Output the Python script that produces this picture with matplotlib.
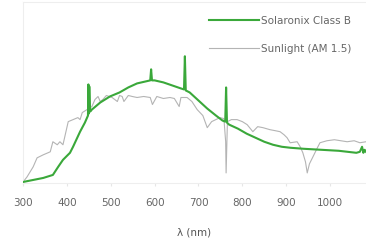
import numpy as np
import matplotlib
matplotlib.use("Agg")
import matplotlib.pyplot as plt

# Solaronix Class B lamp spectrum (arbitrary units)
lamp_nm = [300, 323, 346, 368, 380, 391, 407, 414, 430, 441, 446, 448, 449, 450,
           451, 453, 457, 476, 498, 520, 540, 560, 580, 590, 592, 594, 600,
           620, 640, 660, 667, 669, 671, 680, 700, 720, 740, 755, 761, 763,
           765, 770, 790, 810, 830, 850, 870, 890, 910, 940, 980, 1020, 1060,
           1068, 1073, 1076, 1079, 1082]
lamp_val = [0, 2, 4, 7, 15, 22, 29, 35, 50, 59, 64, 66, 97, 68,
            95, 70, 72, 79, 85, 89, 94, 98, 100, 101, 112, 101, 101,
            99, 96, 93, 92, 125, 91, 89, 81, 73, 66, 61, 60, 94,
            59, 57, 53, 48, 44, 40, 37, 35, 34, 33, 32, 31, 29,
            30, 35, 29, 32, 30]

# Sunlight AM 1.5 spectrum (arbitrary units)
sun_nm = [300, 309, 323, 332, 346, 362, 368, 378, 384, 391, 403, 414, 425, 430,
          435, 446, 457, 464, 471, 476, 482, 490, 503, 515, 520, 526, 530,
          540, 549, 560, 575, 590, 595, 605, 620, 635, 645, 656, 660, 674,
          685, 697, 710, 720, 730, 749, 758, 762, 763, 766, 775, 788, 800,
          811, 824, 835, 847, 863, 875, 886, 895, 902, 909, 925, 932, 938,
          944, 948, 953, 961, 970, 977, 993, 1010, 1039, 1055, 1068, 1082]
sun_val = [0, 5, 15, 24, 27, 30, 40, 37, 40, 37, 60, 62, 64, 62,
           69, 72, 75, 82, 85, 80, 82, 86, 84, 80, 86, 85, 80,
           86, 85, 84, 85, 84, 77, 85, 83, 84, 83, 75, 84, 84,
           80, 72, 66, 54, 60, 64, 63, 40, 9, 60, 62, 62, 60,
           57, 50, 55, 54, 52, 51, 50, 47, 44, 39, 40, 35, 29,
           20, 9, 18, 25, 33, 39, 41, 42, 40, 41, 39, 40]

x_ticks = [300, 400, 500, 600, 700, 800, 900, 1000]

fig = plt.figure(figsize=(3.66, 2.43), dpi=100)
ax = fig.add_axes([0.063, 0.247, 0.937, 0.745])

ax.plot(sun_nm, sun_val, color="#b4b4b4", lw=0.8, label="Sunlight (AM 1.5)", zorder=2)
ax.plot(lamp_nm, lamp_val, color="#3aa83a", lw=1.5, label="Solaronix Class B", zorder=3)

ax.set_xlim(300, 1082)
ax.set_ylim(-1, 179)
ax.set_yticks([])
ax.set_xticks(x_ticks)
ax.tick_params(axis="x", length=2, color="#e6e6e6", labelsize=7.5,
               labelcolor="#666666", pad=9)
for s in ax.spines.values():
    s.set_color("#eeeeee")
    s.set_linewidth(0.8)
ax.spines["right"].set_visible(False)

ax.set_xlabel("λ (nm)", fontsize=7.5, color="#555555", labelpad=14)

handles, labels = ax.get_legend_handles_labels()
leg = ax.legend(handles[::-1], labels[::-1], loc="upper right", frameon=False,
                fontsize=7.5, handlelength=4.8, labelspacing=1.75,
                bbox_to_anchor=(0.985, 0.975), handletextpad=0.2)
for t in leg.get_texts():
    t.set_color("#666666")

fig.savefig("out.png", dpi=100)
